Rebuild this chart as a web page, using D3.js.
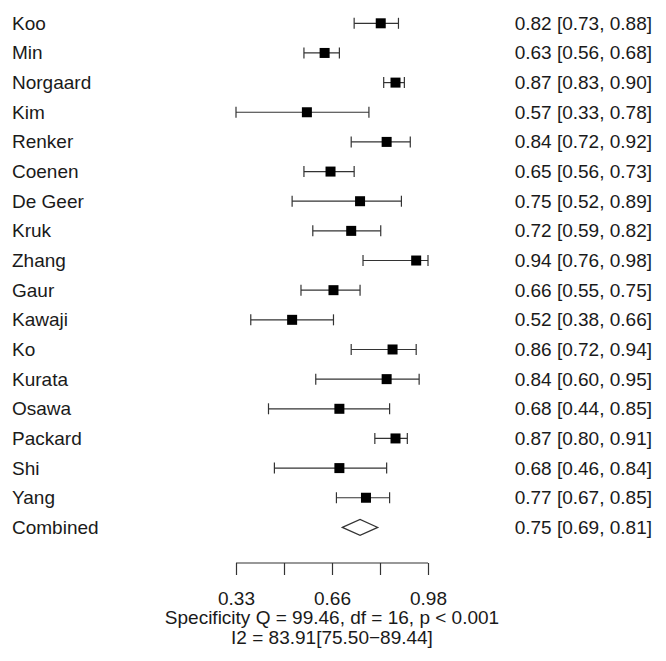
<!DOCTYPE html>
<html><head><meta charset="utf-8">
<script src="https://cdn.jsdelivr.net/npm/d3@7"></script>
<style>body{margin:0;background:#fff;} svg{display:block;} text{font-family:"Liberation Sans",Arial,sans-serif;}</style>
</head><body>
<script>
const studies = ["Koo","Min","Norgaard","Kim","Renker","Coenen","De Geer","Kruk","Zhang","Gaur","Kawaji","Ko","Kurata","Osawa","Packard","Shi","Yang"];
const estimates = [0.82,0.63,0.87,0.57,0.84,0.65,0.75,0.72,0.94,0.66,0.52,0.86,0.84,0.68,0.87,0.68,0.77];
const lowers = [0.73,0.56,0.83,0.33,0.72,0.56,0.52,0.59,0.76,0.55,0.38,0.72,0.60,0.44,0.80,0.46,0.67];
const uppers = [0.88,0.68,0.90,0.78,0.92,0.73,0.89,0.82,0.98,0.75,0.66,0.94,0.95,0.85,0.91,0.84,0.85];
const combined = {label:"Combined", est:0.75, lo:0.69, hi:0.81};
const tickValues = [0.33,0.4925,0.655,0.8175,0.98];
const tickLabels = ["0.33","","0.66","","0.98"];
const footer1 = "Specificity Q = 99.46, df = 16, p < 0.001";
const footer2 = "I2 = 83.91[75.50\u221289.44]";

const W=666,H=661;
const svg=d3.select("body").append("svg").attr("width",W).attr("height",H);
const x=d3.scaleLinear().domain([0.33,0.98]).range([236,428]);
const rows=studies.concat([combined.label]);
const y=d3.scalePoint().domain(rows).range([23.3,527.4]);
const fs=19, col="#1a1a1a", lc="#333";
const fmt=d3.format(".2f");
const data=studies.map((s,i)=>({s,est:estimates[i],lo:lowers[i],hi:uppers[i]}));

const g=svg.append("g");
const rowG=g.selectAll("g.row").data(data).enter().append("g");
rowG.append("line").attr("x1",d=>x(d.lo)).attr("x2",d=>x(d.hi)).attr("y1",d=>y(d.s)).attr("y2",d=>y(d.s)).attr("stroke",lc).attr("stroke-width",1.2);
rowG.append("line").attr("x1",d=>x(d.lo)).attr("x2",d=>x(d.lo)).attr("y1",d=>y(d.s)-5.5).attr("y2",d=>y(d.s)+5.5).attr("stroke",lc).attr("stroke-width",1.2);
rowG.append("line").attr("x1",d=>x(d.hi)).attr("x2",d=>x(d.hi)).attr("y1",d=>y(d.s)-5.5).attr("y2",d=>y(d.s)+5.5).attr("stroke",lc).attr("stroke-width",1.2);
rowG.append("rect").attr("x",d=>x(d.est)-5).attr("y",d=>y(d.s)-5).attr("width",10).attr("height",10).attr("fill","#000");

// labels
g.selectAll("text.lab").data(rows).enter().append("text").attr("x",12).attr("y",d=>y(d)+6.5).attr("font-size",fs).attr("fill",col).text(d=>d);
const ann=data.map(d=>({s:d.s,t:`${fmt(d.est)} [${fmt(d.lo)}, ${fmt(d.hi)}]`})).concat([{s:combined.label,t:`${fmt(combined.est)} [${fmt(combined.lo)}, ${fmt(combined.hi)}]`}]);
g.selectAll("text.ann").data(ann).enter().append("text").attr("x",652).attr("y",d=>y(d.s)+6.5).attr("text-anchor","end").attr("font-size",fs).attr("fill",col).text(d=>d.t);

// diamond
const cy=y(combined.label);
svg.append("polygon").attr("points",[[x(combined.lo),cy],[x(combined.est),cy-8],[x(combined.hi),cy],[x(combined.est),cy+8]].map(p=>p.join(",")).join(" ")).attr("fill","#fff").attr("stroke",lc).attr("stroke-width",1.2);

// axis
const axis=d3.axisBottom(x).tickValues(tickValues).tickSize(-12).tickSizeOuter(0).tickFormat((d,i)=>tickLabels[i]);
const ax=svg.append("g").attr("transform","translate(0,575)").call(axis);
ax.select(".domain").remove();
ax.append("line").attr("x1",x(0.33)).attr("x2",x(0.98)).attr("y1",-12).attr("y2",-12).attr("stroke",lc).attr("stroke-width",1.2);
ax.selectAll(".tick line").attr("stroke",lc).attr("stroke-width",1.2);
ax.selectAll(".tick text").attr("font-size",fs).attr("fill",col).attr("font-family","Liberation Sans, Arial, sans-serif").attr("dy",null).attr("y",30);

const mid=(x(0.33)+x(0.98))/2;
svg.append("text").attr("x",mid).attr("y",624).attr("text-anchor","middle").attr("font-size",fs).attr("fill",col).text(footer1);
svg.append("text").attr("x",mid).attr("y",644).attr("text-anchor","middle").attr("font-size",fs).attr("fill",col).text(footer2);
</script>
</body></html>
